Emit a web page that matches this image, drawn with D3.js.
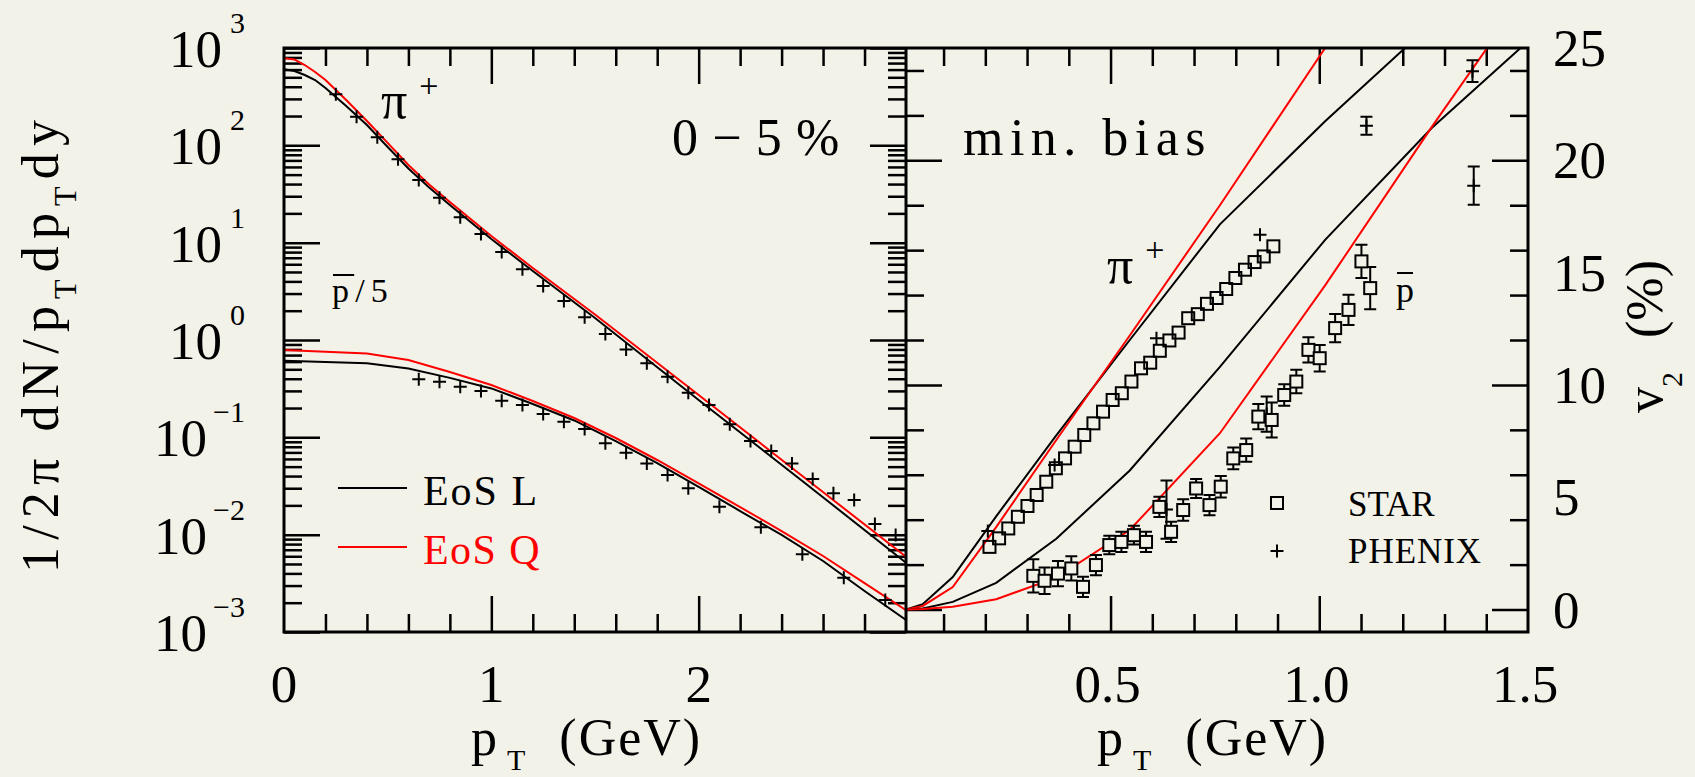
<!DOCTYPE html>
<html>
<head>
<meta charset="utf-8">
<title>spectra and v2</title>
<script src="https://cdn.jsdelivr.net/npm/d3@7/dist/d3.min.js"></script>
<style>
body{margin:0;background:#f2f2e8;overflow:hidden;}
text{font-family:'Liberation Serif','DejaVu Serif',serif;fill:#000;}
</style>
</head>
<body>
<div id="content"></div>
<script>
// left panel: pT spectra, 0-5%  (pbar divided by 5)
var pionPt = [0.25,0.35,0.45,0.55,0.65,0.75,0.85,0.95,1.05,1.15,1.25,1.35,1.45,1.55,1.65,1.75,1.85,1.95,2.05,2.15,2.25,2.35,2.45,2.55,2.65,2.75,2.85,2.95];
var pionYield = [334,197,121,71.9,44,29,18.2,12.3,8.0,5.33,3.59,2.52,1.71,1.15,0.80,0.577,0.42,0.287,0.215,0.136,0.0916,0.0725,0.054,0.0373,0.0266,0.0227,0.0129,0.0099];
var pbarPt = [0.65,0.75,0.85,0.95,1.05,1.15,1.25,1.35,1.45,1.55,1.65,1.75,1.85,1.95,2.1,2.3,2.5,2.7,2.9];
var pbarYield = [0.394,0.373,0.331,0.299,0.238,0.215,0.174,0.145,0.122,0.0869,0.0695,0.054,0.041,0.0299,0.0194,0.0119,0.00628,0.00361,0.00213];

var specPionPt = [0,0.05,0.1,0.15,0.2,0.3,0.4,0.5,0.6,0.7,0.8,0.9,1.0,1.2,1.5,2.0,2.5,3.0];
var specPionL = [604,581,528,469,388,254,162,96.2,57.8,36.9,24.4,16.3,10.9,5.12,1.68,0.242,0.0356,0.00515];
var specPionQ = [784,762,669,567,469,292,178,106,62.8,39.6,26.2,17.5,11.7,5.50,1.83,0.272,0.0401,0.00594];
var specPbarPt = [0,0.4,0.6,0.8,1.0,1.2,1.4,1.6,1.8,2.0,2.2,2.4,2.6,2.8,3.0];
var specPbarL = [0.612,0.577,0.509,0.408,0.318,0.220,0.149,0.0916,0.0544,0.0309,0.0175,0.00993,0.00536,0.00264,0.00133];
var specPbarQ = [0.789,0.726,0.624,0.469,0.345,0.236,0.158,0.0984,0.0585,0.0336,0.0192,0.0109,0.00604,0.00318,0.00168];

// right panel: v2 (%), min. bias
var starPionPt = [0.210,0.233,0.255,0.278,0.301,0.323,0.346,0.369,0.391,0.414,0.437,0.459,0.482,0.505,0.527,0.550,0.573,0.595,0.618,0.641,0.663,0.686,0.709,0.731,0.754,0.777,0.799,0.822,0.845,0.867,0.890];
var starPionV2 = [2.79,3.17,3.61,4.13,4.61,5.10,5.69,6.29,6.73,7.25,7.77,8.29,8.81,9.33,9.63,10.15,10.74,10.99,11.52,11.98,12.33,12.97,13.15,13.61,13.87,14.27,14.76,15.13,15.47,15.72,16.17];
var starPbarPt = [0.315,0.342,0.374,0.406,0.434,0.465,0.497,0.526,0.556,0.585,0.617,0.645,0.674,0.705,0.737,0.764,0.794,0.825,0.854,0.886,0.916,0.945,0.974,1.001,1.038,1.070,1.101,1.122];
var starPbarV2 = [1.5,1.28,1.6,1.83,1.01,1.98,2.87,3.01,3.31,3.01,4.57,3.46,4.43,5.39,4.65,5.47,6.73,7.10,8.59,8.44,9.55,10.15,11.56,11.19,12.53,13.34,15.50,14.31];
var starPbarErr = [0.74,0.59,0.56,0.54,0.45,0.45,0.41,0.45,0.42,0.45,0.45,0.45,0.48,0.42,0.45,0.48,0.48,0.52,0.56,0.78,0.48,0.52,0.56,0.59,0.63,0.67,0.74,0.94];
var phenixPionPt = [0.206,0.366,0.610,0.858,1.113,1.367];
var phenixPionV2 = [3.5,6.43,12.08,16.69,21.54,23.97];
var phenixPionErr = [0,0,0,0,0.40,0.48];
var phenixPbarPt = [0.634,0.874,1.370];
var phenixPbarV2 = [4.45,8.7,18.87];
var phenixPbarErr = [1.3,0.78,0.85];

var hydroPt = [0.01,0.05,0.122,0.226,0.37,0.546,0.762,1.014,1.27,1.5];
var hydroPionL = [0,0.24,1.45,4.15,7.75,12.0,17.15,21.74,26.1,29.5];
var hydroPionQ = [0,0.16,1.0,3.67,7.55,12.2,18.0,25.0,32.0,38.0];
var hydroPbarL = [0,0.05,0.34,1.19,3.15,6.19,10.8,16.46,21.45,25.3];
var hydroPbarQ = [0,0.02,0.12,0.46,1.42,3.54,7.85,14.43,21.5,27.6];

// tick labels
var logExp = [-3,-2,-1,0,1,2,3];
var leftXLabels = [0,1,2];
var rightXLabels = [0.5,1.0,1.5];
var v2Labels = [0,5,10,15,20,25];

var bg = '#f2f2e8';
var init = init();
var left = leftAxis(init);
var right = rightAxis(init);

drawLeft(init, left);
drawRight(init, right);
drawFrame(init);
drawTitles(init);


//user define
function init(){
	var width = 1695, height = 777;
	var svg = d3.select('#content').append('svg').attr('width',width).attr('height',height);
	svg.append('rect').attr('width',width).attr('height',height).attr('fill',bg);
	var defs = svg.append('defs');
	defs.append('clipPath').attr('id','clipL').append('rect')
		.attr('x',284).attr('y',48).attr('width',622).attr('height',584);
	defs.append('clipPath').attr('id','clipR').append('rect')
		.attr('x',906).attr('y',48).attr('width',622).attr('height',584);
	return {svg:svg, top:48, bottom:632, x0:284, x1:906, x2:1528};
}

function leftAxis(init){
	return {
		x : d3.scaleLinear().domain([0,3]).range([init.x0,init.x1]),
		y : d3.scaleLog().domain([1e-3,1e3]).range([init.bottom,init.top])
	};
}

function rightAxis(init){
	return {
		x : d3.scaleLinear().domain([0.01,1.5]).range([init.x1,init.x2]),
		y : d3.scaleLinear().domain([-1,25]).range([init.bottom,init.top])
	};
}

// spread letters so the text takes the width it has in the figure
function fit(text, target){
	var n = text.text().length;
	var w = text.node().getComputedTextLength();
	text.style('letter-spacing',((target-w)/n)+'px');
	return text;
}

function ticks(svg, axis, values, len, tx, ty){
	var g = svg.append('g').attr('transform','translate('+tx+','+ty+')')
		.call(axis.tickValues(values).tickSize(-len).tickFormat(''));
	g.select('.domain').remove();
	g.selectAll('.tick line').attr('stroke','#000').attr('stroke-width',2.5);
}

function curve(g, sc, xs, ys, color){
	var line = d3.line().x(function(d){return sc.x(d[0]);}).y(function(d){return sc.y(d[1]);});
	g.append('path').datum(d3.zip(xs,ys)).attr('d',line)
		.attr('fill','none').attr('stroke',color).attr('stroke-width',2);
}

function crosses(g, sc, xs, ys){
	g.selectAll(null).data(d3.zip(xs,ys)).enter().append('path')
		.attr('transform',function(d){return 'translate('+sc.x(d[0])+','+sc.y(d[1])+')';})
		.attr('d','M-6.5,0H6.5M0,-6.5V6.5')
		.attr('fill','none').attr('stroke','#000').attr('stroke-width',2);
}

function squares(g, sc, xs, ys, fill){
	g.selectAll(null).data(d3.zip(xs,ys)).enter().append('rect')
		.attr('x',function(d){return sc.x(d[0])-6;})
		.attr('y',function(d){return sc.y(d[1])-6;})
		.attr('width',12).attr('height',12)
		.attr('fill',fill).attr('stroke','#000').attr('stroke-width',2);
}

function errorBars(g, sc, xs, ys, es){
	g.selectAll(null).data(d3.zip(xs,ys,es).filter(function(d){return d[2]>0;})).enter().append('path')
		.attr('d',function(d){
			var x = sc.x(d[0]), t = sc.y(d[1]+d[2]), b = sc.y(d[1]-d[2]);
			return 'M'+(x-6)+','+t+'H'+(x+6)+'M'+x+','+t+'V'+b+'M'+(x-6)+','+b+'H'+(x+6);
		})
		.attr('fill','none').attr('stroke','#000').attr('stroke-width',2);
}

function drawLeft(init, sc){
	var svg = init.svg;
	var xAll = sc.x.ticks(15);
	var xMajor = xAll.filter(function(d){return d>0 && d<3 && d%1==0;});
	var xMinor = xAll.filter(function(d){return d%1!=0;});
	var yAll = sc.y.ticks();
	var isMajor = function(d){var l = Math.log10(d); return Math.abs(l-Math.round(l))<1e-6;};
	var yMajor = yAll.filter(isMajor);
	var yMinor = yAll.filter(function(d){return !isMajor(d);});

	ticks(svg, d3.axisBottom(sc.x), xMinor, 18, 0, init.bottom);
	ticks(svg, d3.axisBottom(sc.x), xMajor, 36, 0, init.bottom);
	ticks(svg, d3.axisTop(sc.x), xMinor, 18, 0, init.top);
	ticks(svg, d3.axisTop(sc.x), xMajor, 36, 0, init.top);
	ticks(svg, d3.axisLeft(sc.y), yMinor, 18, init.x0, 0);
	ticks(svg, d3.axisLeft(sc.y), yMajor, 36, init.x0, 0);
	ticks(svg, d3.axisRight(sc.y), yMinor, 18, init.x1, 0);
	ticks(svg, d3.axisRight(sc.y), yMajor, 36, init.x1, 0);

	var g = svg.append('g').attr('clip-path','url(#clipL)');
	curve(g, sc, specPionPt, specPionL, '#000');
	curve(g, sc, specPionPt, specPionQ, '#f00');
	curve(g, sc, specPbarPt, specPbarL, '#000');
	curve(g, sc, specPbarPt, specPbarQ, '#f00');
	crosses(g, sc, pionPt, pionYield);
	crosses(g, sc, pbarPt, pbarYield);

	logExp.forEach(function(e){
		var t = svg.append('text').attr('x',245).attr('y',sc.y(Math.pow(10,e))+19)
			.attr('font-size',53).attr('text-anchor','end');
		t.append('tspan').text('10');
		t.append('tspan').attr('dx',e<0?6:8).attr('dy',-34).attr('font-size',30)
			.text(e<0 ? '\u2212'+(-e) : String(e));
	});
	leftXLabels.forEach(function(v){
		svg.append('text').attr('x',sc.x(v)).attr('y',702).attr('font-size',53)
			.attr('text-anchor','middle').text(String(v));
	});

	// legend
	[['EoS L','#000',488,116],['EoS Q','#f00',547,118]].forEach(function(l){
		svg.append('line').attr('x1',338).attr('x2',407).attr('y1',l[2]).attr('y2',l[2])
			.attr('stroke',l[1]).attr('stroke-width',2);
		fit(svg.append('text').attr('x',423).attr('y',l[2]+17).attr('font-size',42)
			.style('fill',l[1]).text(l[0]), l[3]);
	});

	var pi = svg.append('text').attr('x',381).attr('y',118).attr('font-size',52);
	pi.append('tspan').text('\u03c0');
	pi.append('tspan').attr('dx',12).attr('dy',-21).attr('font-size',34).text('+');

	var pb = fit(svg.append('text').attr('x',332).attr('y',302).attr('font-size',34).text('p/5'), 62);
	overBar(svg, pb, 0);

	fit(svg.append('text').attr('x',672).attr('y',155).attr('font-size',52).text('0 \u2212 5 %'), 168);
}

function drawRight(init, sc){
	var svg = init.svg;
	var xAll = sc.x.ticks(15);
	var xMajor = [0.5,1.0];
	var xMinor = xAll.filter(function(d){return xMajor.indexOf(d)<0 && d<1.5;});
	var yAll = sc.y.ticks(13);
	var yMajor = [0,10,20];
	var yMinor = yAll.filter(function(d){return yMajor.indexOf(d)<0;});

	ticks(svg, d3.axisBottom(sc.x), xMinor, 18, 0, init.bottom);
	ticks(svg, d3.axisBottom(sc.x), xMajor, 36, 0, init.bottom);
	ticks(svg, d3.axisTop(sc.x), xMinor, 18, 0, init.top);
	ticks(svg, d3.axisTop(sc.x), xMajor, 36, 0, init.top);
	ticks(svg, d3.axisLeft(sc.y), yMinor, 18, init.x1, 0);
	ticks(svg, d3.axisLeft(sc.y), yMajor, 36, init.x1, 0);
	ticks(svg, d3.axisRight(sc.y), yMinor, 18, init.x2, 0);
	ticks(svg, d3.axisRight(sc.y), yMajor, 36, init.x2, 0);

	var g = svg.append('g').attr('clip-path','url(#clipR)');
	curve(g, sc, hydroPt, hydroPionL, '#000');
	curve(g, sc, hydroPt, hydroPionQ, '#f00');
	curve(g, sc, hydroPt, hydroPbarL, '#000');
	curve(g, sc, hydroPt, hydroPbarQ, '#f00');
	squares(g, sc, starPionPt, starPionV2, 'none');
	crosses(g, sc, phenixPionPt, phenixPionV2);
	errorBars(g, sc, phenixPionPt, phenixPionV2, phenixPionErr);
	errorBars(g, sc, phenixPbarPt, phenixPbarV2, phenixPbarErr);
	crosses(g, sc, phenixPbarPt, phenixPbarV2);
	errorBars(g, sc, starPbarPt, starPbarV2, starPbarErr);
	squares(g, sc, starPbarPt, starPbarV2, bg);

	rightXLabels.forEach(function(v){
		svg.append('text').attr('x',sc.x(v)-3).attr('y',702).attr('font-size',53)
			.attr('text-anchor','middle').text(v.toFixed(1));
	});
	v2Labels.forEach(function(v){
		svg.append('text').attr('x',1553).attr('y',sc.y(v)+18).attr('font-size',53).text(String(v));
	});

	// legend
	svg.append('rect').attr('x',1271).attr('y',497).attr('width',12).attr('height',12)
		.attr('fill','none').attr('stroke','#000').attr('stroke-width',2);
	svg.append('path').attr('d','M1270.5,551H1283.5M1277,544.5V557.5')
		.attr('stroke','#000').attr('stroke-width',2);
	svg.append('text').attr('x',1348).attr('y',516).attr('font-size',35).text('STAR');
	fit(svg.append('text').attr('x',1348).attr('y',563).attr('font-size',35).text('PHENIX'), 134);

	fit(svg.append('text').attr('x',963).attr('y',155).attr('font-size',52).text('min. bias'), 249);
	var pi = svg.append('text').attr('x',1107).attr('y',283).attr('font-size',52);
	pi.append('tspan').text('\u03c0');
	pi.append('tspan').attr('dx',12).attr('dy',-22).attr('font-size',34).text('+');
	var pb = svg.append('text').attr('x',1396).attr('y',302).attr('font-size',36).text('p');
	overBar(svg, pb, 0);
}

function overBar(svg, text, i){
	var r = text.node().getExtentOfChar(i);
	svg.append('line').attr('x1',r.x+1).attr('x2',r.x+r.width-1)
		.attr('y1',r.y+3).attr('y2',r.y+3)
		.attr('stroke','#000').attr('stroke-width',2);
}

function drawFrame(init){
	var svg = init.svg;
	svg.append('rect').attr('x',init.x0).attr('y',init.top)
		.attr('width',init.x2-init.x0).attr('height',init.bottom-init.top)
		.attr('fill','none').attr('stroke','#000').attr('stroke-width',3);
	svg.append('line').attr('x1',init.x1).attr('x2',init.x1).attr('y1',init.top).attr('y2',init.bottom)
		.attr('stroke','#000').attr('stroke-width',3);
}

function drawTitles(init){
	var svg = init.svg;
	var yt = svg.append('text').attr('transform','translate(58,573) rotate(-90)')
		.attr('font-size',52);
	yt.append('tspan').text('1/2\u03c0 dN/p');
	yt.append('tspan').attr('dy',18).attr('font-size',32).text('T');
	yt.append('tspan').attr('dy',-18).text('dp');
	yt.append('tspan').attr('dy',18).attr('font-size',32).text('T');
	yt.append('tspan').attr('dy',-18).text('dy');
	fit(yt, 460);

	[471,1097].forEach(function(x0){
		var t = svg.append('text').attr('x',x0).attr('y',755).attr('font-size',52);
		t.append('tspan').text('p');
		t.append('tspan').attr('dx',10).attr('dy',15).attr('font-size',30).text('T');
		t.append('tspan').attr('dx',34).attr('dy',-15).style('letter-spacing','2px').text('(GeV)');
	});

	var vt = svg.append('text').attr('transform','translate(1662,413) rotate(-90)').attr('font-size',52);
	vt.append('tspan').text('v');
	vt.append('tspan').attr('dy',20).attr('font-size',30).text('2');
	vt.append('tspan').attr('dx',34).attr('dy',-20).text('(%)');
}
</script>
</body>
</html>
